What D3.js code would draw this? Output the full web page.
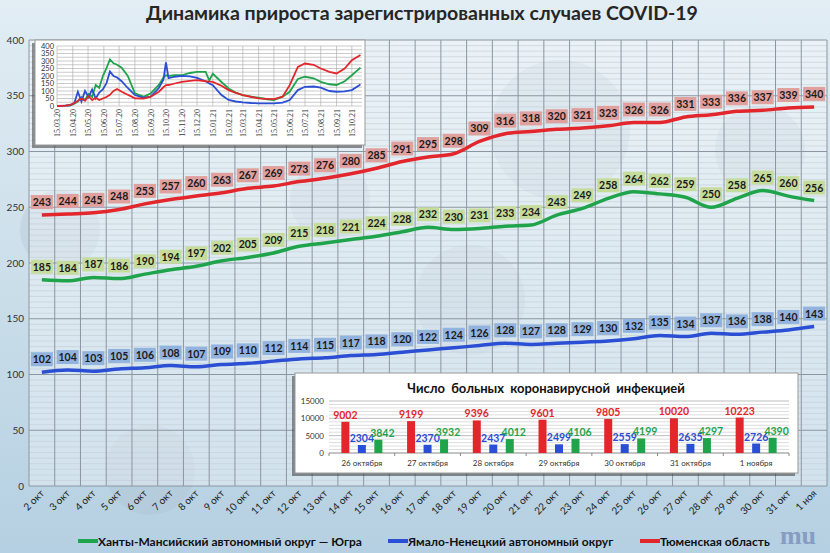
<!DOCTYPE html>
<html lang="ru">
<head>
<meta charset="UTF-8">
<script src="https://cdn.jsdelivr.net/npm/d3@7/dist/d3.min.js"></script>
<title>COVID-19</title>
<style>
    body { margin: 0; }
    svg { display: block; font-family: Lato, "Open Sans", sans-serif; }
</style>
</head>
<body>
<svg id="chart" width="830" height="553"></svg>
<script>
    // --- main chart data ---
    const days = ["2 окт", "3 окт", "4 окт", "5 окт", "6 окт", "7 окт", "8 окт", "9 окт", "10 окт", "11 окт",
        "12 окт", "13 окт", "14 окт", "15 окт", "16 окт", "17 окт", "18 окт", "19 окт", "20 окт", "21 окт",
        "22 окт", "23 окт", "24 окт", "25 окт", "26 окт", "27 окт", "28 окт", "29 окт", "30 окт", "31 окт", "1 ноя"];
    const tyumen = [243, 244, 245, 248, 253, 257, 260, 263, 267, 269, 273, 276, 280, 285, 291, 295, 298, 309, 316, 318,
        320, 321, 323, 326, 326, 331, 333, 336, 337, 339, 340];
    const yugra = [185, 184, 187, 186, 190, 194, 197, 202, 205, 209, 215, 218, 221, 224, 228, 232, 230, 231, 233, 234,
        243, 249, 258, 264, 262, 259, 250, 258, 265, 260, 256];
    const yamal = [102, 104, 103, 105, 106, 108, 107, 109, 110, 112, 114, 115, 117, 118, 120, 122, 124, 126, 128, 127,
        128, 129, 130, 132, 135, 134, 137, 136, 138, 140, 143];
    const yTicks = [0, 50, 100, 150, 200, 250, 300, 350, 400];

    // --- small history inset ---
    const histDates = ["2020-03-15", "2020-04-01", "2020-04-10", "2020-04-18", "2020-04-25", "2020-05-02", "2020-05-09",
        "2020-05-16", "2020-05-23", "2020-05-30", "2020-06-06", "2020-06-13", "2020-06-20", "2020-06-27", "2020-07-04",
        "2020-07-11", "2020-07-20", "2020-08-01", "2020-08-15", "2020-09-01", "2020-09-15", "2020-10-01", "2020-10-10",
        "2020-10-15", "2020-10-20", "2020-11-01", "2020-11-15", "2020-12-01", "2020-12-15", "2021-01-01", "2021-01-08",
        "2021-01-15", "2021-02-01", "2021-02-15", "2021-03-01", "2021-03-15", "2021-04-01", "2021-04-15", "2021-05-01",
        "2021-05-15", "2021-06-01", "2021-06-15", "2021-07-01", "2021-07-15", "2021-08-01", "2021-08-15", "2021-09-01",
        "2021-09-15", "2021-10-01", "2021-10-15", "2021-11-01"];
    const histYugra = [0, 2, 5, 15, 30, 60, 40, 80, 60, 140, 120, 200, 250, 310, 285, 275, 255, 200, 85, 62, 84, 140, 190,
        205, 200, 205, 205, 220, 228, 228, 170, 215, 160, 117, 90, 73, 62, 55, 45, 40, 62, 95, 180, 195, 185, 161, 145,
        140, 165, 205, 256];
    const histTyumen = [0, 2, 8, 20, 35, 50, 35, 65, 40, 55, 40, 50, 60, 75, 100, 113, 95, 75, 51, 50, 62, 95, 125, 139,
        140, 150, 161, 168, 172, 165, 163, 161, 135, 106, 88, 73, 60, 51, 48, 46, 62, 139, 260, 283, 275, 250, 228, 217,
        250, 305, 340];
    const histYamal = [0, 3, 5, 20, 95, 30, 100, 60, 110, 50, 90, 110, 150, 230, 200, 190, 165, 120, 73, 55, 62, 120, 175,
        290, 185, 195, 201, 198, 188, 165, 150, 139, 73, 40, 30, 24, 20, 18, 18, 18, 22, 40, 106, 128, 130, 122, 100, 95,
        98, 106, 143];
    const histTicks = [0, 50, 100, 150, 200, 250, 300, 350, 400];

    // --- bar inset data ---
    const barDays = ["26 октября", "27 октября", "28 октября", "29 октября", "30 октября", "31 октября", "1 ноября"];
    const barTyumen = [9002, 9199, 9396, 9601, 9805, 10020, 10223];
    const barYamal = [2304, 2370, 2437, 2499, 2559, 2635, 2726];
    const barYugra = [3842, 3932, 4012, 4106, 4199, 4297, 4390];
    const barTicks = [0, 5000, 10000, 15000];

    const RED = "#e3262b", GREEN = "#1fa44b", BLUE = "#2a4ed4";

    const svg = d3.select("#chart");

    // background
    const defs = svg.append("defs");
    const bg = defs.append("linearGradient").attr("id", "bg").attr("x1", 0).attr("y1", 0).attr("x2", 0).attr("y2", 1);
    bg.append("stop").attr("offset", "0%").attr("stop-color", "#e2edf4");
    bg.append("stop").attr("offset", "55%").attr("stop-color", "#c9dde9");
    bg.append("stop").attr("offset", "100%").attr("stop-color", "#b5d0e2");
    svg.append("rect").attr("width", 830).attr("height", 553).attr("fill", "url(#bg)");

    // faint blobs to hint at the virus picture behind
    const blobs = [[60, 230, 40], [150, 470, 45], [560, 130, 70], [470, 300, 55], [700, 420, 50], [760, 150, 45], [330, 200, 40]];
    svg.append("g").selectAll("circle").data(blobs).join("circle")
        .attr("cx", d => d[0]).attr("cy", d => d[1]).attr("r", d => d[2])
        .attr("fill", "#a9b7c8").attr("opacity", 0.25);

    // title
    svg.append("text").attr("x", 422).attr("y", 20).attr("text-anchor", "middle")
        .attr("font-size", 19.5).attr("font-weight", "bold").attr("fill", "#262626")
        .text("Динамика прироста зарегистрированных случаев COVID-19");

    // --- main chart ---
    const x = d3.scaleBand().domain(days).range([29, 827]);
    const cx = d => x(d) + x.bandwidth() / 2;
    const y = d3.scaleLinear().domain([0, 400]).range([486, 40]);

    svg.append("rect").attr("x", 29).attr("y", 40).attr("width", 798).attr("height", 446)
        .attr("fill", "#ffffff").attr("opacity", 0.35);

    const grid = svg.append("g");
    grid.selectAll(".minor").data(d3.range(0, 401, 5)).join("line")
        .attr("x1", 29).attr("x2", 827).attr("y1", d => y(d)).attr("y2", d => y(d))
        .attr("stroke", d => d % 50 === 0 ? "#8c96a0" : "#c2ccd4").attr("stroke-width", d => d % 50 === 0 ? 1 : 0.6);
    grid.selectAll(".vert").data(days.concat(["end"])).join("line")
        .attr("x1", d => d === "end" ? 827 : x(d)).attr("x2", d => d === "end" ? 827 : x(d))
        .attr("y1", 40).attr("y2", 486).attr("stroke", "#8c96a0").attr("stroke-width", 1);

    svg.append("g").attr("transform", "translate(24,0)")
        .call(d3.axisLeft(y).tickValues(yTicks).tickSize(0).tickPadding(0))
        .call(g => g.select(".domain").remove())
        .call(g => g.selectAll("text").attr("font-size", 10).attr("fill", "#333").attr("font-family", "Lato, sans-serif"));

    svg.append("g").selectAll("text").data(days).join("text")
        .attr("transform", d => `translate(${cx(d) + 3},${494}) rotate(-45)`)
        .attr("text-anchor", "end").attr("font-size", 10).attr("fill", "#222")
        .text(d => d);

    const line = d3.line().x((v, i) => cx(days[i])).y(v => y(v)).curve(d3.curveMonotoneX);
    const series = [
        { vals: tyumen, color: RED, box: "#e0a09e" },
        { vals: yugra, color: GREEN, box: "#c6dc9c" },
        { vals: yamal, color: BLUE, box: "#93b3df" }
    ];
    series.forEach(s => {
        svg.append("path").datum(s.vals).attr("d", line)
            .attr("fill", "none").attr("stroke", s.color).attr("stroke-width", 3.5);
    });
    series.forEach(s => {
        const lab = svg.append("g").selectAll("g").data(s.vals).join("g")
            .attr("transform", (v, i) => `translate(${cx(days[i])},${y(v) - 13})`);
        lab.append("rect").attr("x", -11).attr("y", -7).attr("width", 22).attr("height", 14).attr("fill", s.box);
        lab.append("text").attr("y", 4).attr("text-anchor", "middle").attr("font-size", 10.5)
            .attr("font-weight", "bold").attr("fill", "#1a1a1a").text(v => v);
    });

    // --- history inset ---
    const parse = d3.timeParse("%Y-%m-%d");
    const hDates = histDates.map(parse);
    const hx = d3.scaleTime().domain([new Date(2020, 2, 15), new Date(2021, 10, 4)]).range([57, 362]);
    const hy = d3.scaleLinear().domain([0, 400]).range([106, 46]);
    const hTickDates = d3.range(20).map(i => new Date(2020, 2 + i, 15));

    const ins = svg.append("g");
    ins.append("rect").attr("x", 32).attr("y", 43).attr("width", 330).attr("height", 105).attr("fill", "#3c3c3c").attr("opacity", 0.55);
    ins.append("rect").attr("x", 35).attr("y", 40).attr("width", 330).attr("height", 105).attr("fill", "#fff").attr("stroke", "#999");
    ins.selectAll(".hh").data(d3.range(0, 401, 25)).join("line")
        .attr("x1", 57).attr("x2", 362).attr("y1", d => hy(d)).attr("y2", d => hy(d))
        .attr("stroke", "#a8a8a8").attr("stroke-width", 0.6);
    ins.selectAll(".hv").data(hTickDates).join("line")
        .attr("x1", d => hx(d)).attr("x2", d => hx(d)).attr("y1", 46).attr("y2", 106)
        .attr("stroke", "#a8a8a8").attr("stroke-width", 0.6);
    ins.selectAll(".hyl").data(histTicks).join("text")
        .attr("x", 54).attr("y", d => hy(d) + 2.5).attr("text-anchor", "end")
        .attr("font-size", 7.5).attr("fill", "#333").text(d => d);
    const fmt = d3.timeFormat("%d.%m.%y");
    ins.selectAll(".hxl").data(hTickDates).join("text")
        .attr("transform", d => `translate(${hx(d) + 3},109) rotate(-90)`)
        .attr("text-anchor", "end").attr("font-size", 8).attr("font-family", "'Liberation Serif', serif")
        .attr("fill", "#333").text(d => fmt(d));
    const hLine = d3.line().x((v, i) => hx(hDates[i])).y(v => hy(v));
    [[histYugra, GREEN], [histYamal, BLUE], [histTyumen, RED]].forEach(([vals, c]) => {
        ins.append("path").datum(vals).attr("d", hLine)
            .attr("fill", "none").attr("stroke", c).attr("stroke-width", 1.8);
    });

    // --- bar inset ---
    const bx0 = d3.scaleBand().domain(barDays).range([329, 789]);
    const keys = ["tyumen", "yamal", "yugra"];
    const bx1 = d3.scaleBand().domain(keys).range([0, bx0.bandwidth()]).paddingInner(0.515).paddingOuter(0.75);
    const by = d3.scaleLinear().domain([0, 15000]).range([453, 401]);
    const barSets = { tyumen: [barTyumen, RED], yamal: [barYamal, BLUE], yugra: [barYugra, GREEN] };

    const bi = svg.append("g");
    bi.append("rect").attr("x", 292).attr("y", 376).attr("width", 503).attr("height", 100).attr("fill", "#3c3c3c").attr("opacity", 0.55);
    bi.append("rect").attr("x", 295).attr("y", 373).attr("width", 503).attr("height", 100).attr("fill", "#fff").attr("stroke", "#999");
    bi.append("text").attr("x", 546).attr("y", 393).attr("text-anchor", "middle")
        .attr("font-size", 13).attr("font-weight", "bold").attr("fill", "#111")
        .attr("word-spacing", 3).text("Число больных  коронавирусной  инфекцией");
    bi.selectAll(".bg").data(d3.range(1000, 15001, 1000)).join("line")
        .attr("x1", 329).attr("x2", 789).attr("y1", d => by(d)).attr("y2", d => by(d))
        .attr("stroke", d => d % 5000 === 0 ? "#a0a0a0" : "#cfcfcf").attr("stroke-width", 0.7);
    bi.append("line").attr("x1", 329).attr("x2", 789).attr("y1", by(0)).attr("y2", by(0)).attr("stroke", "#888");
    bi.selectAll(".bt").data(barDays.concat(["end"])).join("line")
        .attr("x1", d => d === "end" ? 789 : bx0(d)).attr("x2", d => d === "end" ? 789 : bx0(d))
        .attr("y1", by(0)).attr("y2", by(0) + 3).attr("stroke", "#888");
    bi.selectAll(".byl").data(barTicks).join("text")
        .attr("x", 324).attr("y", d => by(d) + 3).attr("text-anchor", "end")
        .attr("font-size", 8).attr("fill", "#333").text(d => d);
    bi.selectAll(".bxl").data(barDays).join("text")
        .attr("x", d => bx0(d) + bx0.bandwidth() / 2).attr("y", 466).attr("text-anchor", "middle")
        .attr("font-size", 8).attr("fill", "#333").text(d => d);

    keys.forEach(k => {
        const [vals, c] = barSets[k];
        bi.selectAll(".bar-" + k).data(vals).join("rect")
            .attr("x", (v, i) => bx0(barDays[i]) + bx1(k)).attr("width", bx1.bandwidth())
            .attr("y", v => by(v)).attr("height", v => by(0) - by(v)).attr("fill", c);
        bi.selectAll(".lab-" + k).data(vals).join("text")
            .attr("x", (v, i) => bx0(barDays[i]) + bx1(k) + bx1.bandwidth() / 2 + (k === "yugra" ? 4 : 0))
            .attr("y", v => by(v) - 3).attr("text-anchor", "middle")
            .attr("font-size", 10.5).attr("font-weight", "bold").attr("fill", c).text(v => v);
    });

    // --- legend ---
    const legend = [
        { name: "Ханты-Мансийский автономный округ — Югра", color: GREEN, x: 78 },
        { name: "Ямало-Ненецкий автономный округ", color: BLUE, x: 388 },
        { name: "Тюменская область", color: RED, x: 640 }
    ];
    const lg = svg.append("g").selectAll("g").data(legend).join("g")
        .attr("transform", d => `translate(${d.x},541)`);
    lg.append("line").attr("x1", 0).attr("x2", 20).attr("stroke", d => d.color).attr("stroke-width", 4);
    lg.append("text").attr("x", 20).attr("y", 4.5).attr("font-size", 12).attr("font-weight", "bold")
        .attr("fill", "#111").text(d => d.name);

    // logo mark
    svg.append("text").attr("x", 798).attr("y", 544).attr("text-anchor", "middle")
        .attr("font-family", "'Liberation Serif', serif").attr("font-size", 26).attr("font-weight", "bold")
        .attr("fill", "#7f93bd").attr("opacity", 0.85).text("mu");
</script>
</body>
</html>
